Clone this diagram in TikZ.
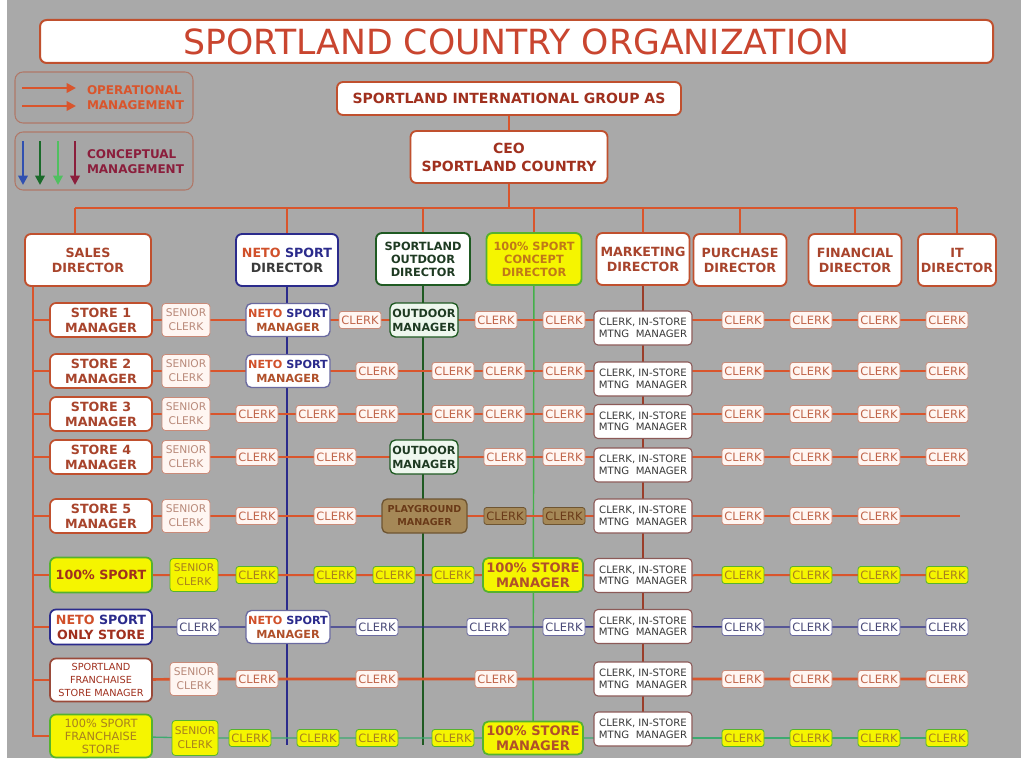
\documentclass[tikz,border=0pt]{standalone}
\usepackage{fontspec}
\setmainfont{DejaVu Sans}
\usetikzlibrary{arrows.meta}
\definecolor{bgray}{HTML}{A9A9A9}
\definecolor{oline}{HTML}{D9552C}
\definecolor{bord}{HTML}{C0502E}
\definecolor{dtxt}{HTML}{A8442C}
\definecolor{ttl}{HTML}{C9452F}
\definecolor{cltxt}{HTML}{C0654A}
\definecolor{clbord}{HTML}{C98A78}
\definecolor{clfill}{HTML}{FFF6F2}
\definecolor{sctxt}{HTML}{B98A7A}
\definecolor{mkbord}{HTML}{8C5A58}
\definecolor{mktxt}{HTML}{3A3A3A}
\definecolor{mkline}{HTML}{9A3E2A}
\definecolor{navy}{HTML}{2B2B8C}
\definecolor{bbord}{HTML}{6A6AA0}
\definecolor{btxt}{HTML}{4A4A78}
\definecolor{dgreen}{HTML}{1F5A22}
\definecolor{ofill}{HTML}{EEF7EE}
\definecolor{otxt}{HTML}{1E3A22}
\definecolor{lgreen}{HTML}{44B04A}
\definecolor{rgreen}{HTML}{3DAA70}
\definecolor{yel}{HTML}{F5F500}
\definecolor{ygreen}{HTML}{55B22E}
\definecolor{ytxt}{HTML}{A8801E}
\definecolor{tan}{HTML}{A58857}
\definecolor{tanb}{HTML}{6E5532}
\definecolor{tantxt}{HTML}{6A3A18}
\definecolor{conctxt}{HTML}{C07818}
\definecolor{netor}{HTML}{D0502A}
\definecolor{nmtxt}{HTML}{B0502A}
\definecolor{legb}{HTML}{B07868}
\definecolor{legf}{HTML}{A6A6A6}
\definecolor{maroon}{HTML}{8B1E3C}
\definecolor{lblue}{HTML}{3050B0}
\definecolor{ldgreen}{HTML}{1A6A2A}
\definecolor{llgreen}{HTML}{50C060}
\definecolor{hred}{HTML}{A0301E}
\definecolor{fbord}{HTML}{9A4A3A}
\pgfdeclarelayer{back}
\pgfdeclarelayer{lines}
\pgfsetlayers{back,lines,main}
\newcommand\NSMtext{\textcolor{netor}{NETO} \textcolor{navy}{SPORT}\\\textcolor{nmtxt}{MANAGER}}
\newcommand\MKtext{CLERK, IN-STORE\\MTNG\ \ MANAGER}
\tikzset{
  sz/.style 2 args={minimum width=#1*0.75pt,minimum height=#2*0.75pt},
  nb/.style={align=center,inner sep=0pt,outer sep=0pt},
  dirbox/.style={nb,draw=bord,line width=1.4pt,fill=white,rounded corners=4.5pt,text=dtxt,font=\bfseries\fontsize{9.5}{11.25}\selectfont},
  mgrbox/.style={dirbox,line width=1.3pt,sz={102}{34}},
  scbox/.style={nb,draw=clbord,line width=0.6pt,fill=clfill,rounded corners=2.5pt,text=sctxt,font=\fontsize{8}{10.5}\selectfont,sz={48}{33}},
  yscbox/.style={scbox,fill=yel,draw=ygreen,text=ytxt},
  clbox/.style={nb,draw=clbord,line width=0.6pt,fill=clfill,rounded corners=2pt,text=cltxt,font=\fontsize{8.6}{9}\selectfont,sz={42}{17}},
  yclbox/.style={clbox,fill=yel,draw=ygreen,text=ytxt},
  bclbox/.style={clbox,fill=white,draw=bbord,text=btxt},
  tclbox/.style={clbox,fill=tan,draw=tanb,text=tantxt},
  mkbox/.style={nb,draw=mkbord,line width=0.8pt,fill=white,rounded corners=3pt,text=mktxt,font=\fontsize{7.6}{8.6}\selectfont,sz={98}{34}},
  nsbox/.style={nb,draw=bbord,line width=1pt,fill=white,rounded corners=4pt,font=\bfseries\fontsize{8.4}{10.5}\selectfont,sz={84}{33}},
  obox/.style={nb,draw=dgreen,line width=1pt,fill=ofill,rounded corners=4pt,text=otxt,font=\bfseries\fontsize{8.4}{10.5}\selectfont,sz={68}{34}},
  ysmbox/.style={nb,draw=ygreen,line width=1.3pt,fill=yel,rounded corners=4pt,text=nmtxt,font=\bfseries\fontsize{9.8}{11.25}\selectfont,sz={100}{34}},
  oln/.style={draw=oline,line width=1.8pt},
  bln/.style={draw=navy,line width=1.1pt},
  gln/.style={draw=rgreen,line width=1pt},
  legarrow/.style={line width=2pt,-{Triangle[length=7pt,width=7pt]}}
}
\begin{document}
\begin{tikzpicture}[x=0.75pt,y=-0.75pt]
\useasboundingbox (0,0) rectangle (1021,767);
\begin{pgfonlayer}{back}
\fill[white] (0,0) rectangle (1021,767);
\fill[bgray] (7,0) rectangle (1021,758);
\end{pgfonlayer}

% title
\node[nb,draw=bord,line width=1.5pt,fill=white,rounded corners=5pt,sz={953}{43},text=ttl,font=\fontsize{26}{30}\selectfont] (title) at (516.5,41.5) {SPORTLAND COUNTRY ORGANIZATION};

% legend
\node[nb,draw=legb,fill=legf,line width=0.8pt,rounded corners=6pt,sz={178}{51}] (leg1) at (104,97.5) {};
\node[nb,draw=legb,fill=legf,line width=0.8pt,rounded corners=6pt,sz={178}{58}] (leg2) at (104,161) {};
\node[nb,anchor=west,align=left,text=oline,font=\bfseries\fontsize{9}{11.25}\selectfont] (legt1) at (87,98) {OPERATIONAL\\MANAGEMENT};
\node[nb,anchor=west,align=left,text=maroon,font=\bfseries\fontsize{9}{11.25}\selectfont] (legt2) at (87,162) {CONCEPTUAL\\MANAGEMENT};
\draw[legarrow,oline] (22,88) -- (76,88);
\draw[legarrow,oline] (22,106) -- (76,106);
\draw[legarrow,lblue] (23,141) -- (23,185);
\draw[legarrow,ldgreen] (40,141) -- (40,185);
\draw[legarrow,llgreen] (58,141) -- (58,185);
\draw[legarrow,maroon] (75,141) -- (75,185);

% top
\node[dirbox,sz={344}{33},font=\bfseries\fontsize{10.5}{12}\selectfont,text=hred] (intl) at (509,98.5) {SPORTLAND INTERNATIONAL GROUP AS};
\node[dirbox,sz={197}{52},font=\bfseries\fontsize{10.5}{13.5}\selectfont,text=hred] (ceo) at (509,157) {CEO\\SPORTLAND COUNTRY};

% directors
\node[dirbox,sz={126}{52}] (sales) at (88,260) {SALES\\DIRECTOR};
\node[dirbox,sz={102}{52},draw=navy,text=mktxt] (neto) at (287,260) {\textcolor{netor}{NETO} \textcolor{navy}{SPORT}\\DIRECTOR};
\node[dirbox,sz={94}{52},draw=dgreen,text=otxt,font=\bfseries\fontsize{8.5}{9.75}\selectfont] (outd) at (423,259) {SPORTLAND\\OUTDOOR\\DIRECTOR};
\node[dirbox,sz={95}{52},draw=ygreen,fill=yel,text=conctxt,font=\bfseries\fontsize{8.5}{9.75}\selectfont] (conc) at (534,259) {100\% SPORT\\CONCEPT\\DIRECTOR};
\node[dirbox,sz={93}{52}] (mkdir) at (643,259) {MARKETING\\DIRECTOR};
\node[dirbox,sz={93}{52}] (purch) at (740,260) {PURCHASE\\DIRECTOR};
\node[dirbox,sz={93}{52}] (fin) at (855,260) {FINANCIAL\\DIRECTOR};
\node[dirbox,sz={78}{52}] (itd) at (957,260) {IT\\DIRECTOR};

\coordinate (busL) at (75,208);
\coordinate (busR) at (957,208);
\coordinate (sv) at (33,286);
\coordinate (bEnd) at (287,745);
\coordinate (gEnd) at (423,745);
\coordinate (r5end) at (960,516);

% row 1
\node[mgrbox] (h1) at (101,320) {STORE 1\\MANAGER};
\node[scbox] (sc1) at (186,320) {SENIOR\\CLERK};
\node[nsbox] (nm1) at (288,320) {\NSMtext};
\node[clbox] (c1a) at (360,320) {CLERK};
\node[obox] (om1) at (424,320) {OUTDOOR\\MANAGER};
\node[clbox] (c1b) at (496,320) {CLERK};
\node[clbox] (c1c) at (564,320) {CLERK};
\node[mkbox] (mk1) at (643,328) {\MKtext};
\node[clbox] (c1d) at (743,320) {CLERK};
\node[clbox] (c1e) at (811,320) {CLERK};
\node[clbox] (c1f) at (879,320) {CLERK};
\node[clbox] (c1g) at (947,320) {CLERK};

% row 2
\node[mgrbox] (h2) at (101,371) {STORE 2\\MANAGER};
\node[scbox] (sc2) at (186,371) {SENIOR\\CLERK};
\node[nsbox] (nm2) at (288,371) {\NSMtext};
\node[clbox] (c2a) at (377,371) {CLERK};
\node[clbox] (c2b) at (453,371) {CLERK};
\node[clbox] (c2c) at (504,371) {CLERK};
\node[clbox] (c2d) at (564,371) {CLERK};
\node[mkbox] (mk2) at (643,379) {\MKtext};
\node[clbox] (c2e) at (743,371) {CLERK};
\node[clbox] (c2f) at (811,371) {CLERK};
\node[clbox] (c2g) at (879,371) {CLERK};
\node[clbox] (c2h) at (947,371) {CLERK};

% row 3
\node[mgrbox] (h3) at (101,414) {STORE 3\\MANAGER};
\node[scbox] (sc3) at (186,414) {SENIOR\\CLERK};
\node[clbox] (c3a) at (257,414) {CLERK};
\node[clbox] (c3b) at (317,414) {CLERK};
\node[clbox] (c3c) at (377,414) {CLERK};
\node[clbox] (c3d) at (453,414) {CLERK};
\node[clbox] (c3e) at (504,414) {CLERK};
\node[clbox] (c3f) at (564,414) {CLERK};
\node[mkbox] (mk3) at (643,421.5) {\MKtext};
\node[clbox] (c3g) at (743,414) {CLERK};
\node[clbox] (c3h) at (811,414) {CLERK};
\node[clbox] (c3i) at (879,414) {CLERK};
\node[clbox] (c3j) at (947,414) {CLERK};

% row 4
\node[mgrbox] (h4) at (101,457) {STORE 4\\MANAGER};
\node[scbox] (sc4) at (186,457) {SENIOR\\CLERK};
\node[clbox] (c4a) at (257,457) {CLERK};
\node[clbox] (c4b) at (335,457) {CLERK};
\node[obox] (om4) at (424,457) {OUTDOOR\\MANAGER};
\node[clbox] (c4c) at (505,457) {CLERK};
\node[clbox] (c4d) at (564,457) {CLERK};
\node[mkbox] (mk4) at (643,465) {\MKtext};
\node[clbox] (c4e) at (743,457) {CLERK};
\node[clbox] (c4f) at (811,457) {CLERK};
\node[clbox] (c4g) at (879,457) {CLERK};
\node[clbox] (c4h) at (947,457) {CLERK};

% row 5
\node[mgrbox] (h5) at (101,516) {STORE 5\\MANAGER};
\node[scbox] (sc5) at (186,516) {SENIOR\\CLERK};
\node[clbox] (c5a) at (257,516) {CLERK};
\node[clbox] (c5b) at (335,516) {CLERK};
\node[nb,draw=tanb,line width=1pt,fill=tan,rounded corners=4pt,text=tantxt,font=\bfseries\fontsize{7.2}{9.75}\selectfont,sz={85}{34}] (pg5) at (424.5,516) {PLAYGROUND\\MANAGER};
\node[tclbox] (t5a) at (505,516) {CLERK};
\node[tclbox] (t5b) at (564,516) {CLERK};
\node[mkbox] (mk5) at (643,516) {\MKtext};
\node[clbox] (c5c) at (743,516) {CLERK};
\node[clbox] (c5d) at (811,516) {CLERK};
\node[clbox] (c5e) at (879,516) {CLERK};

% row 6
\node[mgrbox,fill=yel,draw=ygreen,text=hred,sz={102}{35}] (h6) at (101,575) {100\% SPORT};
\node[yscbox] (sc6) at (194,575) {SENIOR\\CLERK};
\node[yclbox] (y6a) at (257,575) {CLERK};
\node[yclbox] (y6b) at (335,575) {CLERK};
\node[yclbox] (y6c) at (394,575) {CLERK};
\node[yclbox] (y6d) at (453,575) {CLERK};
\node[ysmbox] (sm6) at (533,575) {100\% STORE\\MANAGER};
\node[mkbox] (mk6) at (643,575.5) {\MKtext};
\node[yclbox] (y6e) at (743,575) {CLERK};
\node[yclbox] (y6f) at (811,575) {CLERK};
\node[yclbox] (y6g) at (879,575) {CLERK};
\node[yclbox] (y6h) at (947,575) {CLERK};

% row 7
\node[mgrbox,draw=navy,text=hred,sz={102}{35}] (h7) at (101,627) {\textcolor{netor}{NETO} \textcolor{navy}{SPORT}\\ONLY STORE};
\node[bclbox] (b7a) at (198,627) {CLERK};
\node[nsbox] (nm7) at (288,627) {\NSMtext};
\node[bclbox] (b7b) at (377,627) {CLERK};
\node[bclbox] (b7c) at (488,627) {CLERK};
\node[bclbox] (b7d) at (564,627) {CLERK};
\node[mkbox] (mk7) at (643,626.5) {\MKtext};
\node[bclbox] (b7e) at (743,627) {CLERK};
\node[bclbox] (b7f) at (811,627) {CLERK};
\node[bclbox] (b7g) at (879,627) {CLERK};
\node[bclbox] (b7h) at (947,627) {CLERK};

% row 8
\node[mgrbox,draw=fbord,text=hred,font=\fontsize{7.3}{9.75}\selectfont,sz={102}{43}] (h8) at (101,680) {SPORTLAND\\FRANCHAISE\\STORE MANAGER};
\node[scbox] (sc8) at (194,679) {SENIOR\\CLERK};
\node[clbox] (c8a) at (257,679) {CLERK};
\node[clbox] (c8b) at (377,679) {CLERK};
\node[clbox] (c8c) at (496,679) {CLERK};
\node[mkbox] (mk8) at (643,679) {\MKtext};
\node[clbox] (c8d) at (743,679) {CLERK};
\node[clbox] (c8e) at (811,679) {CLERK};
\node[clbox] (c8f) at (879,679) {CLERK};
\node[clbox] (c8g) at (947,679) {CLERK};

% row 9
\node[mgrbox,fill=yel,draw=ygreen,text=ytxt,font=\fontsize{8.5}{9.75}\selectfont,sz={102}{43}] (h9) at (101,736) {100\% SPORT\\FRANCHAISE\\STORE};
\node[yscbox,sz={46}{35}] (sc9) at (195,738) {SENIOR\\CLERK};
\node[yclbox] (y9a) at (250,738) {CLERK};
\node[yclbox] (y9b) at (318,738) {CLERK};
\node[yclbox] (y9c) at (377,738) {CLERK};
\node[yclbox] (y9d) at (453,738) {CLERK};
\node[ysmbox,sz={100}{33}] (sm9) at (533,738) {100\% STORE\\MANAGER};
\node[mkbox] (mk9) at (643,729) {\MKtext};
\node[yclbox] (y9e) at (743,738) {CLERK};
\node[yclbox] (y9f) at (811,738) {CLERK};
\node[yclbox] (y9g) at (879,738) {CLERK};
\node[yclbox] (y9h) at (947,738) {CLERK};

% connectors
\begin{pgfonlayer}{lines}
\draw[oln,line width=1.7pt] (intl) -- (ceo);
\draw[oln,line width=1.7pt] (ceo) -- (ceo |- busL);
\draw[oln,line width=1.7pt] (busL) -- (busR);
\draw[oln,line width=1.5pt] (busL) -- (busL |- sales.north);
\foreach \d in {neto,outd,conc,mkdir,purch,fin,itd}{
  \draw[oln,line width=1.5pt] (busL -| \d) -- (\d);
}
\draw[oln,line width=1.5pt] (sv) |- (h9);
\foreach \h in {h1,h2,h3,h4,h5,h6,h7,h8}{
  \draw[oln,line width=1.5pt] (sv |- \h) -- (\h);
}
\draw[bln] (neto) -- (bEnd);
\draw[draw=dgreen,line width=1.1pt] (outd) -- (gEnd);
\draw[draw=lgreen,line width=1.1pt] (conc) -- (sm9);
\draw[draw=mkline,line width=1.9pt] (mkdir) -- (mk9);
\draw[oln] (h1) -- (sc1) -- (nm1) -- (c1a) -- (om1) -- (c1b) -- (c1c) -- (c1c -| mk1.west);
\draw[oln] (mk1.east |- c1d) -- (c1d) -- (c1e) -- (c1f) -- (c1g);
\draw[oln] (h2) -- (sc2) -- (nm2) -- (c2a) -- (c2b) -- (c2c) -- (c2d) -- (c2d -| mk2.west);
\draw[oln] (mk2.east |- c2e) -- (c2e) -- (c2f) -- (c2g) -- (c2h);
\draw[oln] (h3) -- (sc3) -- (c3a) -- (c3b) -- (c3c) -- (c3d) -- (c3e) -- (c3f) -- (c3f -| mk3.west);
\draw[oln] (mk3.east |- c3g) -- (c3g) -- (c3h) -- (c3i) -- (c3j);
\draw[oln] (h4) -- (sc4) -- (c4a) -- (c4b) -- (om4) -- (c4c) -- (c4d) -- (c4d -| mk4.west);
\draw[oln] (mk4.east |- c4e) -- (c4e) -- (c4f) -- (c4g) -- (c4h);
\draw[oln] (h5) -- (sc5) -- (c5a) -- (c5b) -- (pg5) -- (t5a) -- (t5b) -- (mk5) -- (c5c) -- (c5d) -- (c5e) -- (r5end);
\draw[oln,line width=1.5pt] (h6) -- (sc6) -- (y6a) -- (y6b) -- (y6c) -- (y6d) -- (sm6) -- (mk6) -- (y6e) -- (y6f) -- (y6g) -- (y6h);
\draw[bln] (h7) -- (b7a) -- (nm7) -- (b7b) -- (b7c) -- (b7d) -- (mk7) -- (b7e) -- (b7f) -- (b7g) -- (b7h);
\draw[oln,line width=2pt] (h8) -- (sc8) -- (c8a) -- (c8b) -- (c8c) -- (mk8) -- (c8d) -- (c8e) -- (c8f) -- (c8g);
\draw[gln] (h9) -- (sc9) -- (y9a) -- (y9b) -- (y9c) -- (y9d) -- (sm9) -- (sm9 -| mk9.west);
\draw[gln] (mk9.east |- y9e) -- (y9e) -- (y9f) -- (y9g) -- (y9h);
\end{pgfonlayer}
\end{tikzpicture}
\end{document}
